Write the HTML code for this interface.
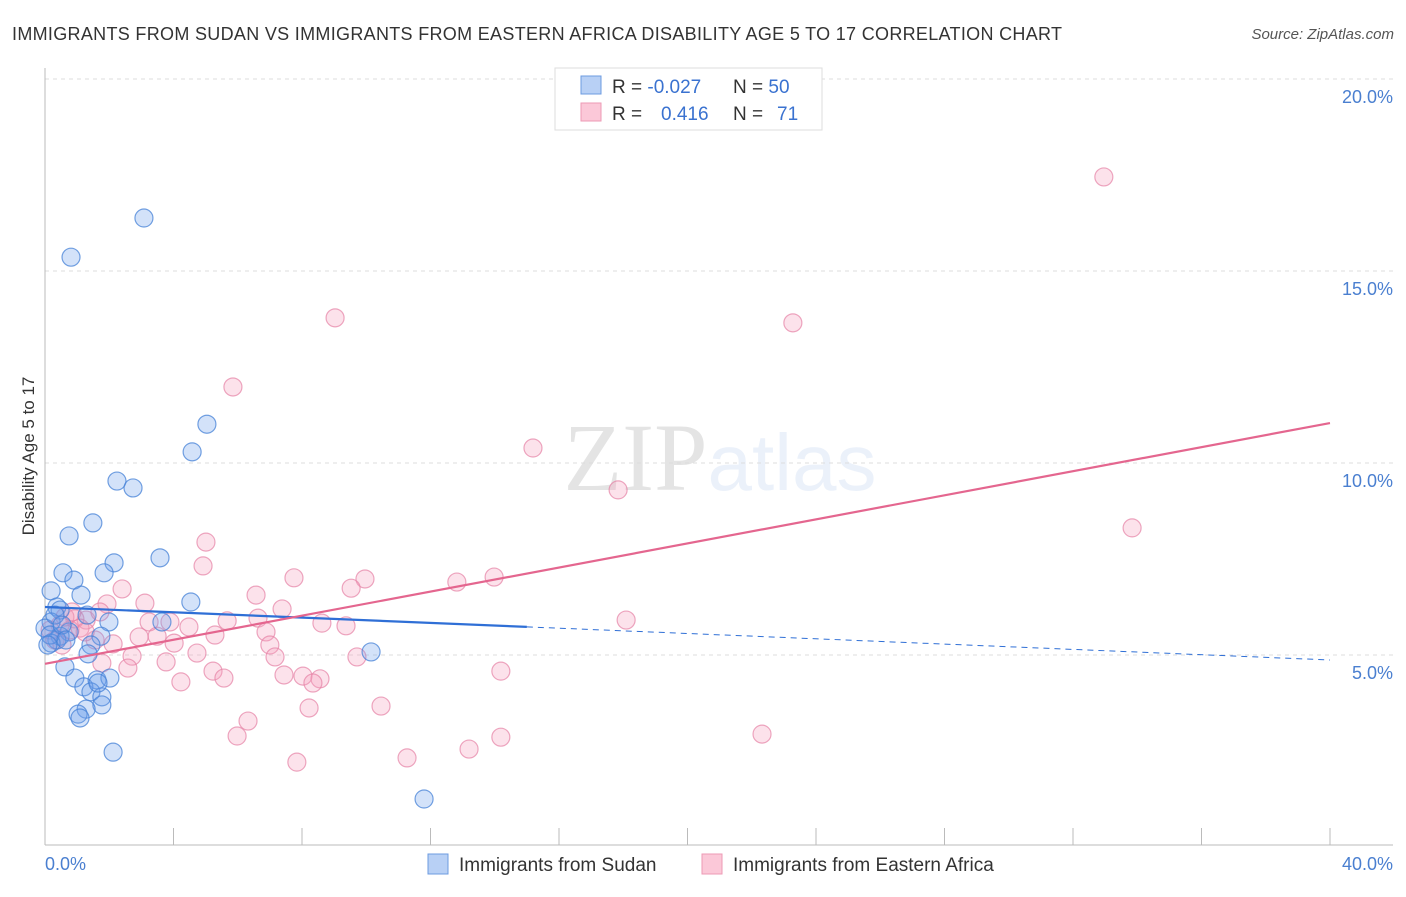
<!DOCTYPE html>
<html><head><meta charset="utf-8"><style>
body{margin:0;background:#fff;font-family:"Liberation Sans",sans-serif;}
</style></head><body>
<svg width="1406" height="892" xmlns="http://www.w3.org/2000/svg" font-family="Liberation Sans, sans-serif">
<text x="12" y="40" font-size="18" fill="#333" textLength="1050" lengthAdjust="spacing">IMMIGRANTS FROM SUDAN VS IMMIGRANTS FROM EASTERN AFRICA DISABILITY AGE 5 TO 17 CORRELATION CHART</text>
<text x="1394" y="39" font-size="15" fill="#555" font-style="italic" text-anchor="end">Source: ZipAtlas.com</text>
<text x="720" y="490" font-size="96" text-anchor="middle" fill="#000" opacity="0.10" font-family="Liberation Serif, serif">ZIP<tspan fill="#4a7fd0" opacity="1.6" font-family="Liberation Sans, sans-serif" font-size="80">atlas</tspan></text>
<g id="grid"></g>
<line x1="45" y1="68" x2="45" y2="845" stroke="#bbb"/>
<line x1="45" y1="845" x2="1393" y2="845" stroke="#bbb"/>
<g id="xticks"></g>
<text transform="translate(34,456) rotate(-90)" font-size="17" fill="#333" text-anchor="middle">Disability Age 5 to 17</text>
<text x="45" y="870" font-size="18" fill="#4a7fd0">0.0%</text>
<text x="1393" y="870" font-size="18" fill="#4a7fd0" text-anchor="end">40.0%</text>
<g id="pts"></g>
<g id="lines"></g>
<g>
<rect x="555" y="68" width="267" height="62" fill="#fff" stroke="#ddd"/>
<rect x="581" y="76" width="20" height="18" fill="#b8d0f5" stroke="#6c9be0"/>
<rect x="581" y="103" width="20" height="18" fill="#fbc8d8" stroke="#ec9ab5"/>
<text x="612" y="93" font-size="19" fill="#333">R = <tspan fill="#3a72d0">-0.027</tspan><tspan x="733">N = </tspan><tspan fill="#3a72d0">50</tspan></text>
<text x="612" y="120" font-size="19" fill="#333">R = <tspan x="661" fill="#3a72d0">0.416</tspan><tspan x="733">N = </tspan><tspan x="777" fill="#3a72d0">71</tspan></text>
</g>
<g>
<rect x="428" y="854" width="20" height="20" fill="#b8d0f5" stroke="#6c9be0"/>
<text x="459" y="871" font-size="19" fill="#333">Immigrants from Sudan</text>
<rect x="702" y="854" width="20" height="20" fill="#fbc8d8" stroke="#ec9ab5"/>
<text x="733" y="871" font-size="19" fill="#333">Immigrants from Eastern Africa</text>
</g>
</svg>
<script>
const yTicks=[5,10,15,20];
const yTickLabels=["5.0%","10.0%","15.0%","20.0%"];
const xTicks=[0,4,8,12,16,20,24,28,32,36,40];
const sudanX=[3.08,0.81,5.04,4.58,2.24,2.74,1.49,0.75,3.58,2.15,0.56,1.84,0.90,0.19,1.12,4.54,0.37,0.47,1.31,1.99,3.64,0.19,0.0,0.75,0.47,1.74,0.37,0.19,1.43,1.34,10.15,0.62,0.93,1.62,2.02,1.21,1.43,1.77,1.77,1.28,1.03,1.09,2.12,11.80,0.16,0.31,0.09,0.53,0.65,1.65];
const sudanY=[16.38,15.36,11.01,10.29,9.53,9.35,8.44,8.10,7.53,7.40,7.14,7.14,6.95,6.67,6.56,6.38,6.25,6.17,6.04,5.86,5.86,5.86,5.70,5.60,5.49,5.49,5.39,5.31,5.26,5.03,5.08,4.69,4.40,4.35,4.40,4.17,4.04,3.91,3.70,3.59,3.46,3.36,2.47,1.25,5.52,6.04,5.26,5.78,5.39,4.27];
const eaX=[32.96,9.03,23.28,5.85,15.19,17.84,33.84,5.01,4.92,7.75,9.96,13.98,12.82,9.53,2.40,6.57,3.11,1.93,7.38,18.09,3.89,3.24,5.67,6.63,8.62,9.37,4.48,1.28,0.93,5.29,6.88,2.93,3.49,4.02,2.12,4.73,7.00,7.16,9.71,2.71,3.77,1.77,2.58,14.19,5.23,5.57,7.44,8.03,8.56,8.34,4.23,8.22,10.46,6.32,5.98,14.19,22.32,13.20,11.27,7.84,0.47,0.78,0.31,1.09,1.56,0.62,1.71,0.16,1.25,0.53,0.84];
const eaY=[17.45,13.78,13.65,11.98,10.39,9.30,8.31,7.94,7.32,7.01,6.98,7.03,6.90,6.74,6.72,6.56,6.35,6.33,6.20,5.91,5.86,5.86,5.89,5.96,5.83,5.76,5.73,5.91,5.94,5.52,5.60,5.47,5.49,5.31,5.29,5.05,5.26,4.95,4.95,4.97,4.82,4.79,4.66,4.58,4.58,4.40,4.48,4.45,4.38,4.27,4.30,3.62,3.67,3.28,2.89,2.86,2.94,2.55,2.32,2.21,5.78,5.65,5.39,5.70,5.39,5.99,6.12,5.65,5.60,5.26,6.12];
const sudanTrend=[6.25,4.87];
const eaTrend=[4.77,11.04];
const NS="http://www.w3.org/2000/svg";
const xs=v=>45+v*32.125, ys=v=>847-v*38.4;
function mk(t,a,p){const e=document.createElementNS(NS,t);for(const k in a)e.setAttribute(k,a[k]);p.appendChild(e);return e;}
const grid=document.getElementById('grid');
yTicks.forEach((t,i)=>{
 const l=mk('line',{x1:45,x2:1393,y1:ys(t),y2:ys(t),stroke:'#ddd','stroke-dasharray':'4,4'},grid);
 
 
 const tx=mk('text',{x:1393,y:ys(t)+24,'font-size':18,fill:'#4a7fd0','text-anchor':'end'},grid);
 tx.textContent=yTickLabels[i];
 
 
});
const xt=document.getElementById('xticks');
xTicks.forEach(t=>{
 const l=mk('line',{x1:xs(t),x2:xs(t),y1:828,y2:845,stroke:'#bbb'},xt);
 
 
});
const pts=document.getElementById('pts');
eaX.forEach((x,i)=>{
 const c=mk('circle',{cx:xs(x),cy:ys(eaY[i]),r:9,fill:'rgba(245,160,190,0.3)',stroke:'rgba(230,130,165,0.7)','stroke-width':1.2},pts);
 
 
});
sudanX.forEach((x,i)=>{
 const c=mk('circle',{cx:xs(x),cy:ys(sudanY[i]),r:9,fill:'rgba(110,160,235,0.3)',stroke:'rgba(70,130,215,0.75)','stroke-width':1.2},pts);
 
 
});
const ln=document.getElementById('lines');
const sy=x=>sudanTrend[0]+(sudanTrend[1]-sudanTrend[0])*x/40;
let a=mk('line',{x1:xs(0),y1:ys(sy(0)),x2:xs(15),y2:ys(sy(15)),stroke:'#2f6fd6','stroke-width':2.2},ln);


a=mk('line',{x1:xs(15),y1:ys(sy(15)),x2:xs(40),y2:ys(sy(40)),stroke:'#2f6fd6','stroke-width':1,'stroke-dasharray':'6,5'},ln);


a=mk('line',{x1:xs(0),y1:ys(eaTrend[0]),x2:xs(40),y2:ys(eaTrend[1]),stroke:'#e4668f','stroke-width':2.2},ln);


</script>
</body></html>
